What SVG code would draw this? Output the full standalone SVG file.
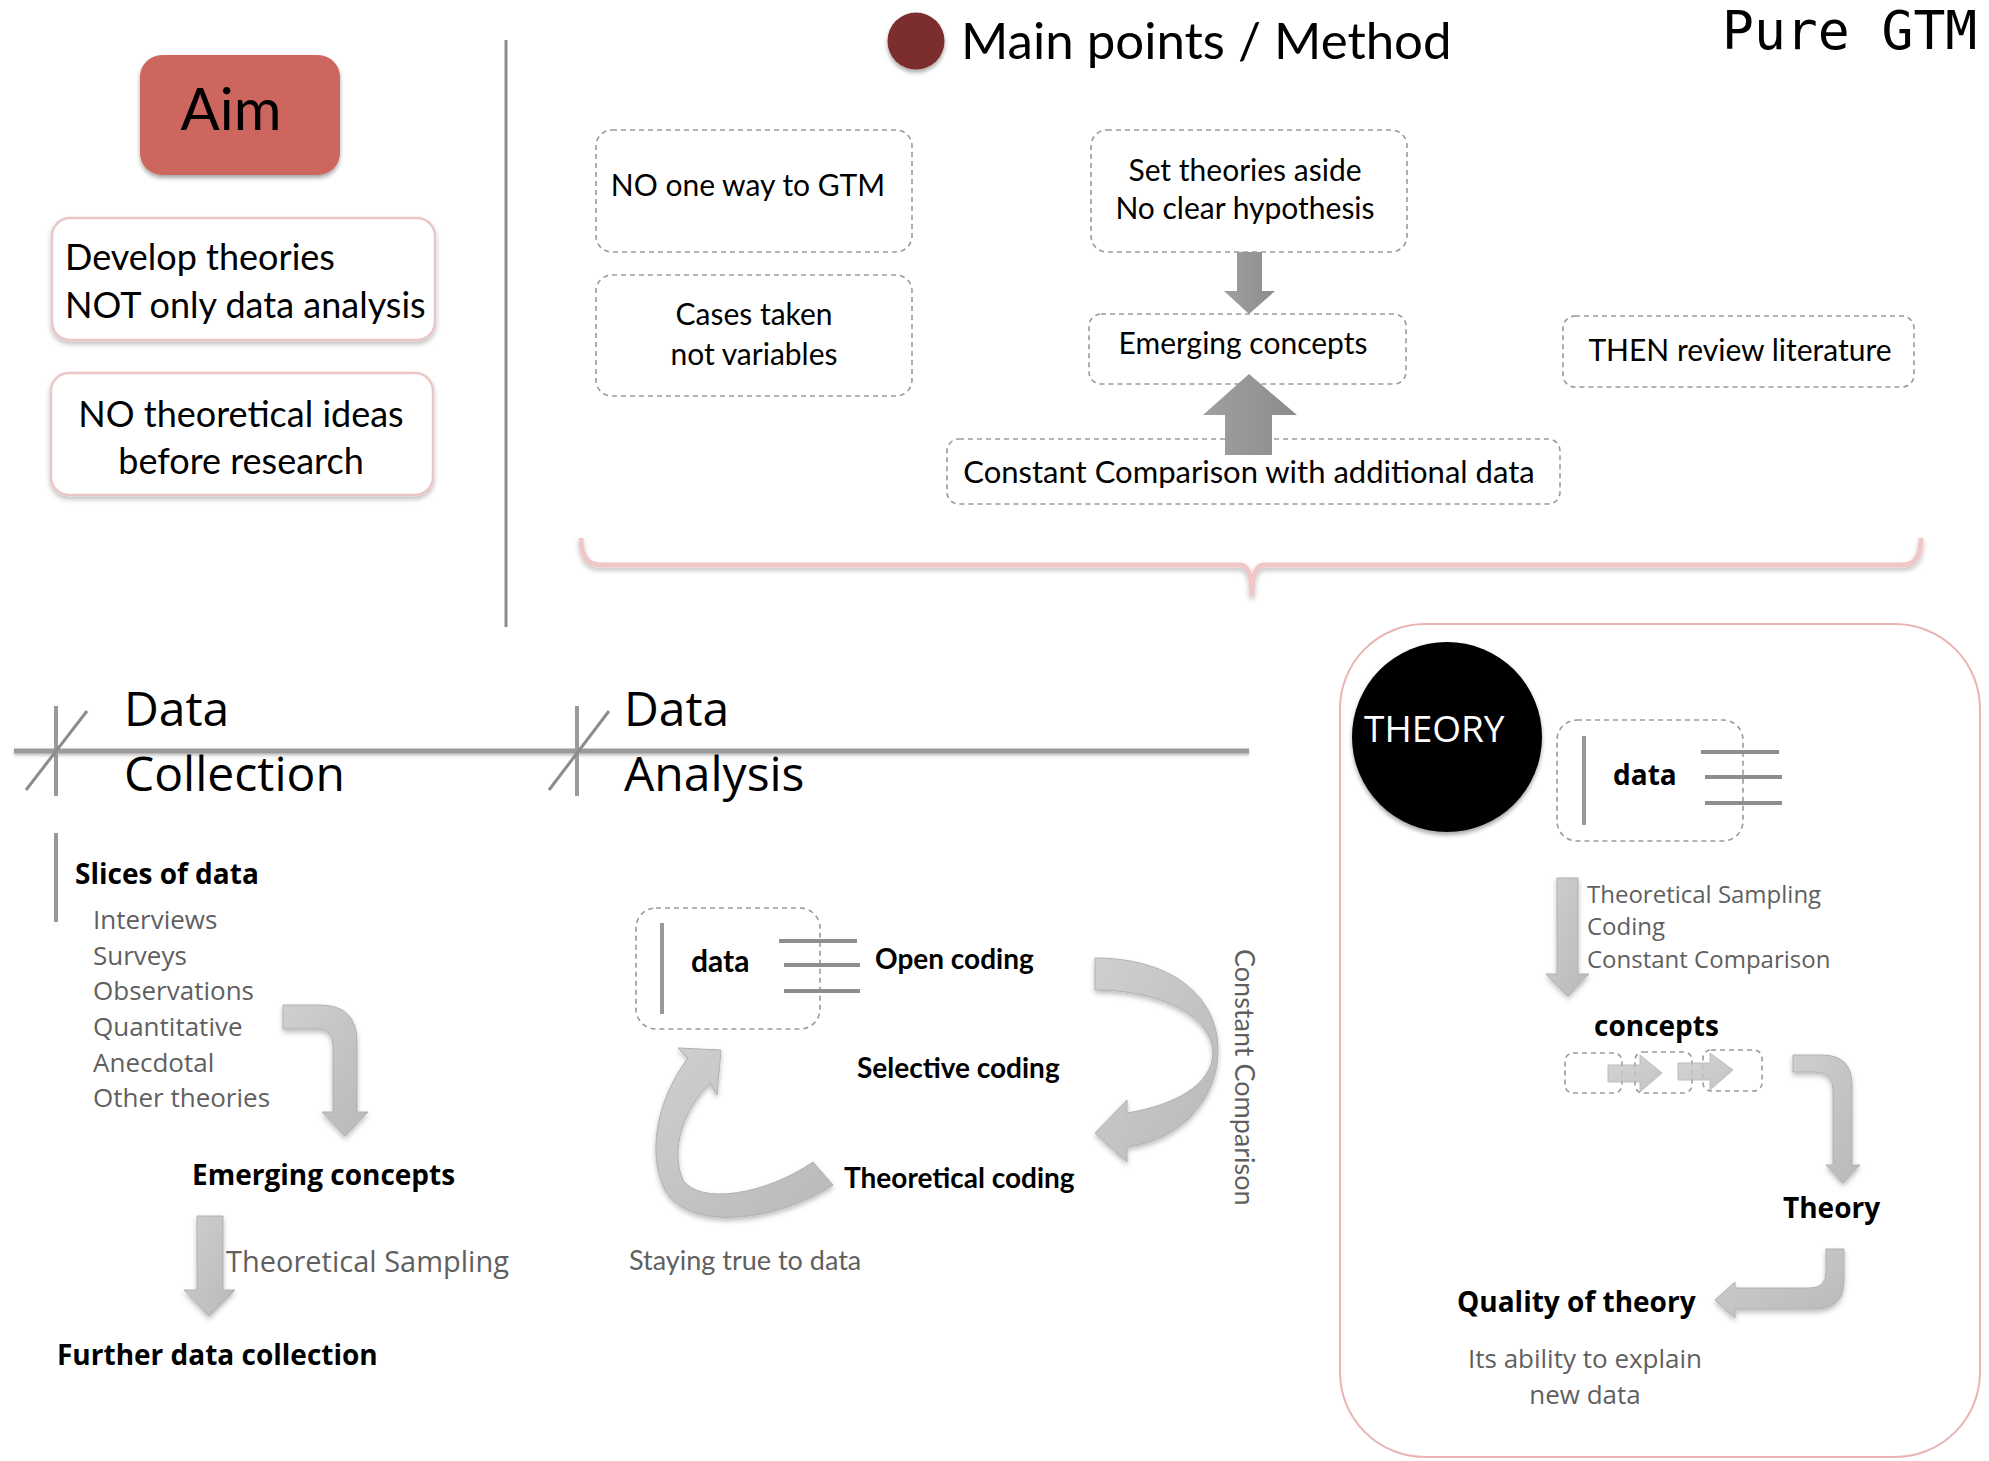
<svg xmlns="http://www.w3.org/2000/svg" width="1989" height="1461" viewBox="0 0 1989 1461">
<defs>
<filter id="ds" x="-20%" y="-20%" width="140%" height="150%"><feDropShadow dx="0" dy="3" stdDeviation="2" flood-color="#000" flood-opacity="0.35"/></filter>
<filter id="ds2" x="-10%" y="-10%" width="120%" height="130%"><feDropShadow dx="0" dy="3" stdDeviation="2.5" flood-color="#000" flood-opacity="0.25"/></filter>
<filter id="lineSh" filterUnits="userSpaceOnUse" x="0" y="700" width="1300" height="110"><feDropShadow dx="0" dy="2" stdDeviation="1.5" flood-color="#000" flood-opacity="0.25"/></filter>
<linearGradient id="gl" x1="0" y1="0" x2="1" y2="1"><stop offset="0" stop-color="#cfcfcf"/><stop offset="1" stop-color="#b9b9b9"/></linearGradient>
<linearGradient id="gd" x1="0" y1="0" x2="1" y2="0"><stop offset="0" stop-color="#a0a0a0"/><stop offset="1" stop-color="#8c8c8c"/></linearGradient>
</defs>
<style>
.cal{font-family:Lato,"Open Sans","Liberation Sans",sans-serif;fill:#000}
.gil{font-family:"Open Sans","Noto Sans","Liberation Sans",sans-serif;fill:#000}
.b{font-weight:bold}
.gray{fill:#5f5f5f}
.mono{font-family:"DejaVu Sans Mono","Liberation Mono",monospace;fill:#000}
.dash{fill:none;stroke:#9a9a9a;stroke-width:1.6;stroke-dasharray:5 4}
.pink{fill:#fff;stroke:#ebc6c6;stroke-width:2.5}
.bar{stroke:#999;stroke-width:4;fill:none}
.hl{stroke:#8e8e8e;stroke-width:4;fill:none}
.la{fill:url(#gl);stroke:#b0b0b0;stroke-width:1}
.da{fill:url(#gd)}
.mid{text-anchor:middle}
</style>
<rect width="1989" height="1461" fill="#fff"/>

<g id="aim">
<rect x="140" y="55" width="200" height="120" rx="22" fill="#cd665f" filter="url(#ds)"/>
<text class="cal mid" x="231" y="130" font-size="58">Aim</text>
</g>
<g id="aim1">
<rect class="pink" x="52" y="218" width="383" height="122" rx="18" filter="url(#ds2)"/>
<text class="cal" x="65" y="270" font-size="36">Develop theories</text>
<text class="cal" x="65" y="318" font-size="36">NOT only data analysis</text>
</g>
<g id="aim2">
<rect class="pink" x="51" y="373" width="382" height="122" rx="18" filter="url(#ds2)"/>
<text class="cal mid" x="241" y="427" font-size="36">NO theoretical ideas</text>
<text class="cal mid" x="241" y="474" font-size="36">before research</text>
</g>
<g id="divider">
<line x1="506" y1="40" x2="506" y2="627" stroke="#8c8c8c" stroke-width="3"/>
</g>

<g id="title">
<circle cx="916" cy="41" r="28.5" fill="#7b2f2e" filter="url(#ds)"/>
<text class="cal" x="961" y="59" font-size="51">Main points / Method</text>
</g>
<g id="pure">
<text class="mono" x="1722" y="49" font-size="53">Pure GTM</text>
</g>

<g id="m1">
<rect class="dash" x="596" y="130" width="316" height="122" rx="16"/>
<text class="cal mid" x="748" y="196" font-size="30">NO one way to GTM</text>
</g>
<g id="m2">
<rect class="dash" x="596" y="275" width="316" height="121" rx="16"/>
<text class="cal mid" x="754" y="325" font-size="30">Cases taken</text>
<text class="cal mid" x="754" y="365" font-size="30">not variables</text>
</g>
<g id="m3">
<rect class="dash" x="1091" y="130" width="316" height="122" rx="16"/>
<text class="cal mid" x="1245" y="181" font-size="30">Set theories aside</text>
<text class="cal mid" x="1245" y="219" font-size="30">No clear hypothesis</text>
</g>
<g id="m4">
<rect class="dash" x="1089" y="314" width="317" height="70" rx="12"/>
<text class="cal mid" x="1243" y="354" font-size="30">Emerging concepts</text>
</g>
<g id="m5">
<rect class="dash" x="1563" y="316" width="351" height="71" rx="12"/>
<text class="cal mid" x="1740" y="361" font-size="30">THEN review literature</text>
</g>
<g id="m6">
<rect class="dash" x="947" y="439" width="613" height="65" rx="12"/>
<text class="cal mid" x="1249" y="483" font-size="31">Constant Comparison with additional data</text>
</g>

<g id="timeline">
<line x1="14" y1="751" x2="1249" y2="751" stroke="#9a9a9a" stroke-width="5" filter="url(#lineSh)"/>
<line x1="56" y1="706" x2="56" y2="796" stroke="#9a9a9a" stroke-width="4"/>
<line x1="26" y1="790" x2="87" y2="711" stroke="#8c8c8c" stroke-width="3"/>
<line x1="577" y1="706" x2="577" y2="796" stroke="#9a9a9a" stroke-width="4"/>
<line x1="549" y1="790" x2="609" y2="711" stroke="#8c8c8c" stroke-width="3"/>
</g>

<g id="collection">
<text class="gil" x="124" y="726" font-size="48">Data</text>
<text class="gil" x="124" y="791" font-size="48">Collection</text>
<line class="bar" x1="56" y1="833" x2="56" y2="922"/>
<text class="gil b" x="75" y="884" font-size="28">Slices of data</text>
<text class="gil gray" x="93" y="929" font-size="26">Interviews</text>
<text class="gil gray" x="93" y="965" font-size="26">Surveys</text>
<text class="gil gray" x="93" y="1000" font-size="26">Observations</text>
<text class="gil gray" x="93" y="1036" font-size="26">Quantitative</text>
<text class="gil gray" x="93" y="1072" font-size="26">Anecdotal</text>
<text class="gil gray" x="93" y="1107" font-size="26">Other theories</text>
</g>
<g id="emerging">
<text class="gil b" x="192" y="1185" font-size="28">Emerging concepts</text>
</g>
<g id="further">
<text class="gil gray" x="226" y="1272" font-size="29">Theoretical Sampling</text>
<text class="gil b" x="57" y="1365" font-size="28">Further data collection</text>
</g>

<g id="analysis">
<text class="gil" x="624" y="726" font-size="48">Data</text>
<text class="gil" x="624" y="791" font-size="48">Analysis</text>
</g>
<g id="data1">
<rect class="dash" x="636" y="908" width="184" height="121" rx="20"/>
<line class="bar" x1="662" y1="923" x2="662" y2="1014"/>
<text class="cal b" x="691" y="972" font-size="30">data</text>
<line class="hl" x1="779" y1="941" x2="857" y2="941"/>
<line class="hl" x1="784" y1="965" x2="860" y2="965"/>
<line class="hl" x1="784" y1="991" x2="860" y2="991"/>
</g>
<g id="codings">
<text class="cal b" x="875" y="969" font-size="28">Open coding</text>
<text class="cal b" x="857" y="1078" font-size="28">Selective coding</text>
<text class="cal b" x="844" y="1188" font-size="28">Theoretical coding</text>
<text class="cal gray" x="629" y="1270" font-size="27">Staying true to data</text>
<text class="cal gray" x="1235" y="949" font-size="27" transform="rotate(90 1235 949)">Constant Comparison</text>
</g>

<g id="theorybox">
<rect x="1340" y="624" width="640" height="833" rx="85" fill="#fff" stroke="#e8b4b4" stroke-width="2"/>
<circle cx="1447" cy="737" r="95" fill="#000" filter="url(#ds)"/>
<text class="gil" x="1364" y="742" font-size="37" style="fill:#fff">THEORY</text>
</g>
<g id="data2">
<rect class="dash" x="1557" y="720" width="186" height="121" rx="20"/>
<line class="bar" x1="1584" y1="736" x2="1584" y2="825"/>
<text class="gil b" x="1613" y="785" font-size="28">data</text>
<line class="hl" x1="1701" y1="752" x2="1779" y2="752"/>
<line class="hl" x1="1705" y1="777" x2="1782" y2="777"/>
<line class="hl" x1="1705" y1="803" x2="1782" y2="803"/>
</g>
<g id="steps">
<text class="gil gray" x="1587" y="903" font-size="24">Theoretical Sampling</text>
<text class="gil gray" x="1587" y="935" font-size="24">Coding</text>
<text class="gil gray" x="1587" y="968" font-size="24">Constant Comparison</text>
</g>
<g id="concepts">
<text class="gil b" x="1594" y="1036" font-size="28">concepts</text>
<rect class="dash" x="1565" y="1053" width="57" height="40" rx="8"/>
<rect class="dash" x="1635" y="1052" width="57" height="41" rx="8"/>
<rect class="dash" x="1703" y="1050" width="59" height="41" rx="8"/>
<path class="la" opacity="0.85" d="M1608,1065 H1640 V1055 L1662,1073 L1640,1092 V1082 H1608 Z"/>
<path class="la" opacity="0.85" d="M1678,1063 H1710 V1053 L1733,1070 L1710,1090 V1080 H1678 Z"/>
</g>
<g id="theory">
<text class="gil b" x="1783" y="1218" font-size="28">Theory</text>
</g>
<g id="quality">
<text class="gil b" x="1457" y="1312" font-size="28">Quality of theory</text>
<text class="gil gray mid" x="1585" y="1368" font-size="26">Its ability to explain</text>
<text class="gil gray mid" x="1585" y="1404" font-size="26">new data</text>
</g>

<g id="connectors">
<path d="M581,538 Q581,565 600,565 H1240 Q1252,565 1252,596 Q1252,565 1264,565 H1903 Q1921,565 1921,538" fill="none" stroke="#f0c6c6" stroke-width="5" filter="url(#ds2)"/>
<path class="da" d="M1237,252 H1262 V291 H1275 L1249,314 L1224,291 H1237 Z"/>
<path class="da" d="M1249,374 L1297,415 H1272 V455 H1225 V415 H1203 Z"/>
<path class="la" d="M283,1005 H320 Q357,1005 357,1042 V1112 H368 L345,1136 L322,1112 H333 V1045 Q333,1029 318,1029 H283 Z" filter="url(#ds2)"/>
<path class="la" d="M197,1216 H223 V1290 H235 L209,1316 L184,1290 H197 Z" filter="url(#ds2)"/>
<path class="la" d="M1095,958 C1170,958 1218,995 1218,1050 C1218,1100 1180,1140 1127,1147 L1127,1162 L1095,1133 L1127,1100 L1127,1113 C1175,1105 1212,1085 1213,1053 C1212,1015 1160,990 1095,990 Z" filter="url(#ds2)"/>
<path class="la" d="M721,1050 L678,1048 L688,1058 C660,1095 645,1150 665,1190 C690,1232 775,1222 833,1185 L813,1162 C765,1195 700,1205 683,1180 C670,1150 683,1110 710,1083 L717,1095 Z" filter="url(#ds2)"/>
<path class="la" d="M1557,878 H1578 V974 H1589 L1568,996 L1546,974 H1557 Z" filter="url(#ds2)"/>
<path class="la" d="M1793,1055 H1822 Q1852,1055 1852,1085 V1165 H1860 L1843,1183 L1826,1165 H1833 V1090 Q1833,1072 1815,1072 H1793 Z" filter="url(#ds2)"/>
<path class="la" d="M1826,1249 H1844 V1280 Q1844,1309 1815,1309 H1735 V1318 L1715,1300 L1735,1282 V1288 H1810 Q1826,1288 1826,1272 Z" filter="url(#ds2)"/>
</g>
</svg>
